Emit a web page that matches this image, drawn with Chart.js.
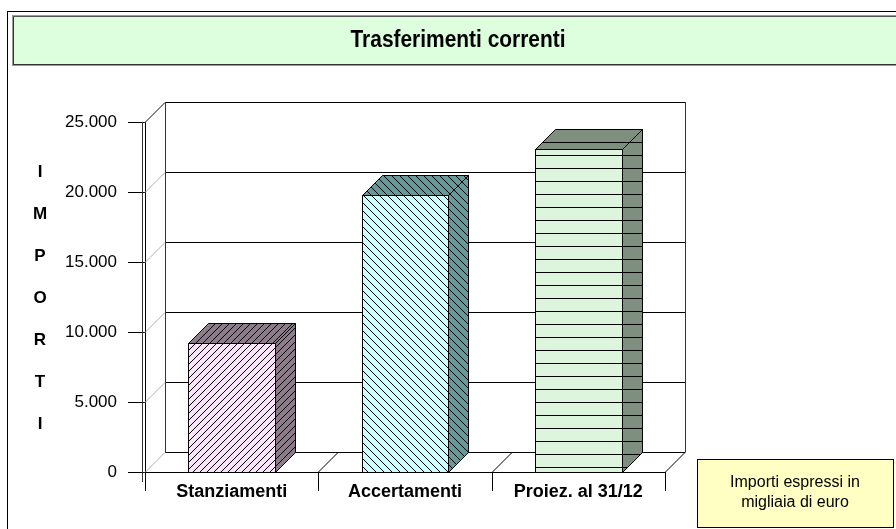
<!DOCTYPE html>
<html>
<head>
<meta charset="utf-8">
<script src="https://cdn.jsdelivr.net/npm/chart.js@4.4.0/dist/chart.umd.min.js"></script>
<style>
  html, body { margin: 0; padding: 0; background: #fff; }
  #wrap { width: 896px; height: 529px; }
</style>
</head>
<body>
<div id="wrap"><canvas id="chart" width="896" height="529"></canvas></div>
<script>
const chartTitle = 'Trasferimenti correnti';
const categories = ['Stanziamenti', 'Accertamenti', 'Proiez. al 31/12'];
const amounts = [9200, 19800, 23100];
const yTickLabels = ['0', '5.000', '10.000', '15.000', '20.000', '25.000'];
const yTitleLetters = ['I', 'M', 'P', 'O', 'R', 'T', 'I'];
const noteLines = ['Importi espressi in', 'migliaia di euro'];

const frontColors = ['#f9e4f9', '#ccffff', '#ddf5dd'];
const sideColors = ['#8b7b8b', '#669999', '#7f8f7f'];
const hatchKinds = ['up', 'down', 'flat'];
const hatchSizes = [7, 8, 13];

const DEPTH = 20;
const FONT = '"Liberation Sans", Arial, sans-serif';

// small tiles for the hatched fills
function makePattern(bg, kind, size) {
    const c = document.createElement('canvas');
    c.width = kind === 'flat' ? 4 : size;
    c.height = size;
    const g = c.getContext('2d');
    g.fillStyle = bg;
    g.fillRect(0, 0, c.width, c.height);
    g.fillStyle = '#000';
    if (kind === 'flat') {
        g.fillRect(0, size - 1, c.width, 1);
    } else {
        for (let i = 0; i < size; i++) {
            const py = kind === 'up' ? size - 1 - i : i;
            g.fillRect(i, py, 1, 1);
        }
    }
    return g.createPattern(c, 'repeat');
}

const frontPatterns = frontColors.map((c, i) => makePattern(c, hatchKinds[i], hatchSizes[i]));
const sidePatterns = sideColors.map((c, i) => makePattern(c, hatchKinds[i], hatchSizes[i]));

function line(ctx, x1, y1, x2, y2) {
    ctx.beginPath();
    ctx.moveTo(x1, y1);
    ctx.lineTo(x2, y2);
    ctx.stroke();
}

function poly(ctx, pts, fill) {
    ctx.beginPath();
    pts.forEach((p, i) => i ? ctx.lineTo(p[0], p[1]) : ctx.moveTo(p[0], p[1]));
    ctx.closePath();
    ctx.fillStyle = fill;
    ctx.fill();
    ctx.stroke();
}

const box3d = {
    id: 'box3d',
    beforeDraw(chart) {
        const ctx = chart.ctx;
        ctx.save();
        // outer frame
        ctx.strokeStyle = '#000';
        ctx.lineWidth = 1;
        ctx.strokeRect(7.5, 11.5, 1000, 1000);
        // title box
        ctx.fillStyle = '#ddffdd';
        ctx.fillRect(12, 15, 900, 50);
        ctx.strokeStyle = '#9a9a9a';
        ctx.strokeRect(12.5, 15.5, 900, 50);
        ctx.strokeStyle = '#333';
        line(ctx, 13, 64.5, 900, 64.5);
        line(ctx, 13.5, 16, 13.5, 64);
        ctx.strokeStyle = '#555';
        line(ctx, 13, 16.5, 900, 16.5);
        // title text, squeezed to look like a narrow face
        ctx.font = 'bold 23px "Liberation Sans Narrow", ' + FONT;
        ctx.fillStyle = '#000';
        ctx.textAlign = 'center';
        ctx.textBaseline = 'middle';
        const w = ctx.measureText(chartTitle).width;
        ctx.translate(458, 41);
        ctx.scale(215 / w, 1);
        ctx.fillText(chartTitle, 0, 0);
        ctx.restore();
    },
    beforeDatasetsDraw(chart) {
        const ctx = chart.ctx;
        const { left, right, top, bottom } = chart.chartArea;
        const ys = chart.scales.y;
        const xs = chart.scales.x;
        ctx.save();
        ctx.lineWidth = 1;
        // back wall gridlines and left wall diagonals
        ys.ticks.forEach(t => {
            const py = Math.round(ys.getPixelForValue(t.value)) + 0.5;
            ctx.strokeStyle = '#000';
            line(ctx, left + DEPTH, py - DEPTH, right + DEPTH, py - DEPTH);
            ctx.strokeStyle = '#b0b0b0';
            line(ctx, left, py, left + DEPTH, py - DEPTH);
        });
        ctx.strokeStyle = '#333';
        // back wall edges
        line(ctx, left + DEPTH + 0.5, top - DEPTH, left + DEPTH + 0.5, bottom - DEPTH);
        line(ctx, right + DEPTH + 0.5, top - DEPTH, right + DEPTH + 0.5, bottom - DEPTH);
        line(ctx, left, top + 0.5, left + DEPTH, top - DEPTH + 0.5);
        // left wall thickness
        line(ctx, left - 2.5, top, left - 2.5, bottom + 10);
        // floor dividers and category ticks
        const step = xs.getPixelForValue(1) - xs.getPixelForValue(0);
        ctx.strokeStyle = '#000';
        for (let k = 0; k <= categories.length; k++) {
            const bx = Math.round(xs.getPixelForValue(0) - step / 2 + k * step) + 0.5;
            if (k > 0) line(ctx, bx, bottom, bx + DEPTH, bottom - DEPTH);
            line(ctx, bx, bottom, bx, bottom + 19);
        }
        ctx.restore();
    },
    afterDatasetsDraw(chart) {
        const ctx = chart.ctx;
        const meta = chart.getDatasetMeta(0);
        ctx.save();
        ctx.strokeStyle = '#000';
        ctx.lineWidth = 1;
        meta.data.forEach((bar, i) => {
            const { x, y, base, width } = bar.getProps(['x', 'y', 'base', 'width'], true);
            const l = Math.round(x - width / 2) + 0.5;
            const r = Math.round(x + width / 2) + 0.5;
            const t = Math.round(y) + 0.5;
            const b = Math.round(base) + 0.5;
            poly(ctx, [[r, t], [r + DEPTH, t - DEPTH], [r + DEPTH, b - DEPTH], [r, b]], sidePatterns[i]);
            poly(ctx, [[l, t], [l + DEPTH, t - DEPTH], [r + DEPTH, t - DEPTH], [r, t]], sidePatterns[i]);
            poly(ctx, [[l, t], [r, t], [r, b], [l, b]], frontPatterns[i]);
        });
        ctx.restore();
    },
    afterDraw(chart) {
        const ctx = chart.ctx;
        ctx.save();
        // vertical axis title, one letter per line
        ctx.fillStyle = '#000';
        ctx.font = 'bold 17px ' + FONT;
        ctx.textAlign = 'center';
        ctx.textBaseline = 'middle';
        yTitleLetters.forEach((ch, i) => ctx.fillText(ch, 40, 172 + i * 42));
        // note box
        ctx.fillStyle = '#ffffc4';
        ctx.fillRect(697, 459, 196, 68);
        ctx.strokeStyle = '#000';
        ctx.strokeRect(697.5, 459.5, 196, 68);
        ctx.fillStyle = '#000';
        ctx.font = '16px ' + FONT;
        noteLines.forEach((s, i) => ctx.fillText(s, 795, 483 + i * 20));
        ctx.restore();
    }
};

new Chart(document.getElementById('chart'), {
    type: 'bar',
    data: {
        labels: categories,
        datasets: [{
            data: amounts,
            backgroundColor: 'rgba(0,0,0,0)',
            borderWidth: 0,
            barPercentage: 0.5,
            categoryPercentage: 1.0
        }]
    },
    options: {
        responsive: false,
        animation: false,
        devicePixelRatio: 1,
        layout: { padding: { left: 0, right: 231, top: 122, bottom: 0 } },
        plugins: {
            legend: { display: false },
            title: { display: false },
            tooltip: { enabled: false }
        },
        scales: {
            x: {
                afterFit: (s) => { s.height = 57; },
                grid: { display: false, drawTicks: false },
                border: { display: true, color: '#000' },
                ticks: {
                    color: '#000',
                    font: { family: FONT, size: 18, weight: 'bold' },
                    padding: 9,
                    maxRotation: 0,
                    autoSkip: false
                }
            },
            y: {
                min: 0,
                max: 25000,
                afterFit: (s) => { s.width = 145; },
                grid: { drawOnChartArea: false, drawTicks: true, tickLength: 17, color: '#000' },
                border: { display: true, color: '#000' },
                ticks: {
                    stepSize: 5000,
                    color: '#000',
                    padding: 11,
                    font: { family: FONT, size: 17 },
                    callback: (v, i) => yTickLabels[i]
                }
            }
        }
    },
    plugins: [box3d]
});
</script>
</body>
</html>
